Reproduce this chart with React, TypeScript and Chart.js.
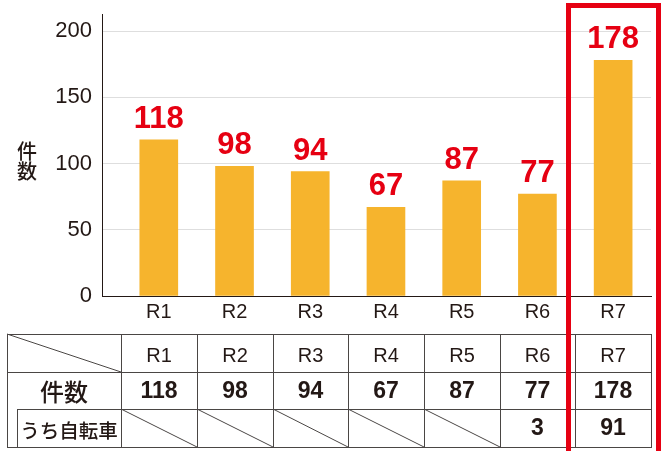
import React, { useEffect, useRef } from 'react';
import { Chart, registerables } from 'chart.js';

Chart.register(...registerables);

// ---- data ----
const categories = ['R1', 'R2', 'R3', 'R4', 'R5', 'R6', 'R7'];
const counts = [118, 98, 94, 67, 87, 77, 178];
const bicycleCounts: (number | null)[] = [null, null, null, null, null, 3, 91];
const yTicks = [0, 50, 100, 150, 200];
const yTitle = ['件', '数'];
const rowLabelCount = '件数';
const rowLabelBicycle = 'うち自転車';

// ---- styles ----
const RED = '#e60012';
const BAR = '#f6b42d';
const INK = '#231815';
const LINE = '#4a4644';
const GRID = '#dedede';
const LATIN = '"Liberation Sans", Arial, Helvetica, sans-serif';
const CJK = '"Noto Sans CJK JP", "Noto Sans", sans-serif';

// table layout
const tableLeft = 7;
const subLeft = 17;
const colEdges = [121, 197, 273, 348, 424, 500, 575, 651];
const rowEdges = [334, 372, 409, 447];

const valueLabelPlugin = {
  id: 'valueLabels',
  afterDatasetsDraw(chart: any) {
    const ctx = chart.ctx;
    const meta = chart.getDatasetMeta(0);
    ctx.save();
    ctx.fillStyle = RED;
    ctx.font = `bold 31px ${LATIN}`;
    ctx.textAlign = 'center';
    ctx.textBaseline = 'alphabetic';
    meta.data.forEach((bar: any, i: number) => {
      ctx.fillText(String(counts[i]), bar.x, bar.y - 12);
    });
    ctx.restore();
  },
};

function BarChart() {
  const ref = useRef<HTMLCanvasElement | null>(null);
  useEffect(() => {
    if (!ref.current) return;
    const chart = new Chart(ref.current, {
      type: 'bar',
      data: {
        datasets: [
          {
            data: counts.map((v, i) => ({ x: i, y: v })),
            backgroundColor: BAR,
            borderWidth: 0,
            barThickness: 38,
          },
        ],
      },
      options: {
        animation: false,
        responsive: false,
        layout: { padding: { top: 14, right: 13, left: 0, bottom: 0 } },
        plugins: { legend: { display: false }, tooltip: { enabled: false } },
        scales: {
          x: {
            type: 'linear',
            min: -0.75,
            max: 6.5,
            offset: false,
            z: 1,
            grid: { display: false, drawTicks: false, offset: false },
            border: { display: true, color: INK, width: 1 },
            afterBuildTicks: (s: any) => {
              s.ticks = categories.map((_, i) => ({ value: i }));
            },
            afterFit: (s: any) => {
              s.height = 34;
              s.paddingLeft = 0;
              s.paddingRight = 0;
            },
            ticks: {
              callback: (v: any) => categories[v] ?? '',
              font: { family: LATIN, size: 20 },
              color: INK,
              padding: 4,
              autoSkip: false,
              maxRotation: 0,
            },
          },
          y: {
            min: 0,
            max: 213,
            grid: { color: GRID, lineWidth: 1, drawTicks: false },
            border: { display: true, color: INK, width: 1 },
            afterBuildTicks: (s: any) => {
              s.ticks = yTicks.map((v) => ({ value: v }));
            },
            afterFit: (s: any) => {
              s.width = 102;
              s.paddingTop = 0;
              s.paddingBottom = 0;
            },
            ticks: {
              font: { family: LATIN, size: 22 },
              color: INK,
              padding: 10,
            },
          },
        },
      } as any,
      plugins: [valueLabelPlugin],
    });
    return () => chart.destroy();
  }, []);
  return (
    <canvas
      ref={ref}
      width={664}
      height={330}
      style={{ position: 'absolute', left: 0, top: 0, width: 664, height: 330, display: 'block' }}
    />
  );
}

function DataTable() {
  const px = (v: number) => Math.round(v) + 0.5;
  const top = rowEdges[0];
  const bottom = rowEdges[3];
  const right = colEdges[colEdges.length - 1];
  const lines: React.ReactNode[] = [];
  let k = 0;
  // horizontals
  lines.push(<line key={k++} x1={tableLeft} y1={px(rowEdges[0])} x2={right + 1} y2={px(rowEdges[0])} />);
  lines.push(<line key={k++} x1={tableLeft} y1={px(rowEdges[1])} x2={right + 1} y2={px(rowEdges[1])} />);
  lines.push(<line key={k++} x1={subLeft} y1={px(rowEdges[2])} x2={right + 1} y2={px(rowEdges[2])} />);
  lines.push(<line key={k++} x1={tableLeft} y1={px(rowEdges[3])} x2={right + 1} y2={px(rowEdges[3])} />);
  // verticals
  lines.push(<line key={k++} x1={px(tableLeft)} y1={top} x2={px(tableLeft)} y2={bottom + 1} />);
  lines.push(<line key={k++} x1={px(subLeft)} y1={rowEdges[2]} x2={px(subLeft)} y2={bottom + 1} />);
  colEdges.forEach((x) => {
    lines.push(<line key={k++} x1={px(x)} y1={top} x2={px(x)} y2={bottom + 1} />);
  });
  // header diagonal
  lines.push(<line key={k++} x1={tableLeft} y1={top} x2={colEdges[0]} y2={rowEdges[1]} />);
  // diagonals for empty cells
  bicycleCounts.forEach((v, i) => {
    if (v === null) {
      lines.push(
        <line key={k++} x1={colEdges[i]} y1={rowEdges[2]} x2={colEdges[i + 1]} y2={rowEdges[3]} />
      );
    }
  });
  const centers = categories.map((_, i) => (colEdges[i] + colEdges[i + 1]) / 2);
  return (
    <svg
      width={664}
      height={451}
      style={{ position: 'absolute', left: 0, top: 0, pointerEvents: 'none' }}
    >
      <g stroke={LINE} strokeWidth={1} shapeRendering="auto">{lines}</g>
      <g fill={INK} textAnchor="middle" fontFamily={LATIN}>
        {categories.map((c, i) => (
          <text key={'h' + i} x={centers[i]} y={362} fontSize={20}>
            {c}
          </text>
        ))}
        {counts.map((v, i) => (
          <text key={'c' + i} x={centers[i]} y={398} fontSize={23} fontWeight="bold">
            {v}
          </text>
        ))}
        {bicycleCounts.map((v, i) =>
          v === null ? null : (
            <text key={'b' + i} x={centers[i]} y={435} fontSize={23} fontWeight="bold">
              {v}
            </text>
          )
        )}
      </g>
      <g fill={INK} textAnchor="middle" fontFamily={CJK}>
        <text x={64} y={390} fontSize={24} fontWeight={500} dominantBaseline="central">
          {rowLabelCount}
        </text>
        <text x={69} y={429} fontSize={19.5} fontWeight={500} dominantBaseline="central">
          {rowLabelBicycle}
        </text>
      </g>
    </svg>
  );
}

export default function App() {
  return (
    <div
      style={{
        position: 'fixed',
        left: 0,
        top: 0,
        width: 664,
        height: 451,
        overflow: 'hidden',
        background: '#ffffff',
      }}
    >
      <BarChart />
      <div
        style={{
          position: 'absolute',
          left: 17,
          top: 141,
          width: 20,
          fontFamily: CJK,
          fontSize: 20,
          lineHeight: '20px',
          fontWeight: 500,
          color: INK,
          textAlign: 'center',
        }}
      >
        {yTitle.map((c, i) => (
          <div key={i}>{c}</div>
        ))}
      </div>
      <DataTable />
      <div
        style={{
          position: 'absolute',
          left: 566,
          top: 3,
          width: 95,
          height: 470,
          border: `5px solid ${RED}`,
          boxSizing: 'border-box',
          pointerEvents: 'none',
        }}
      />
    </div>
  );
}
